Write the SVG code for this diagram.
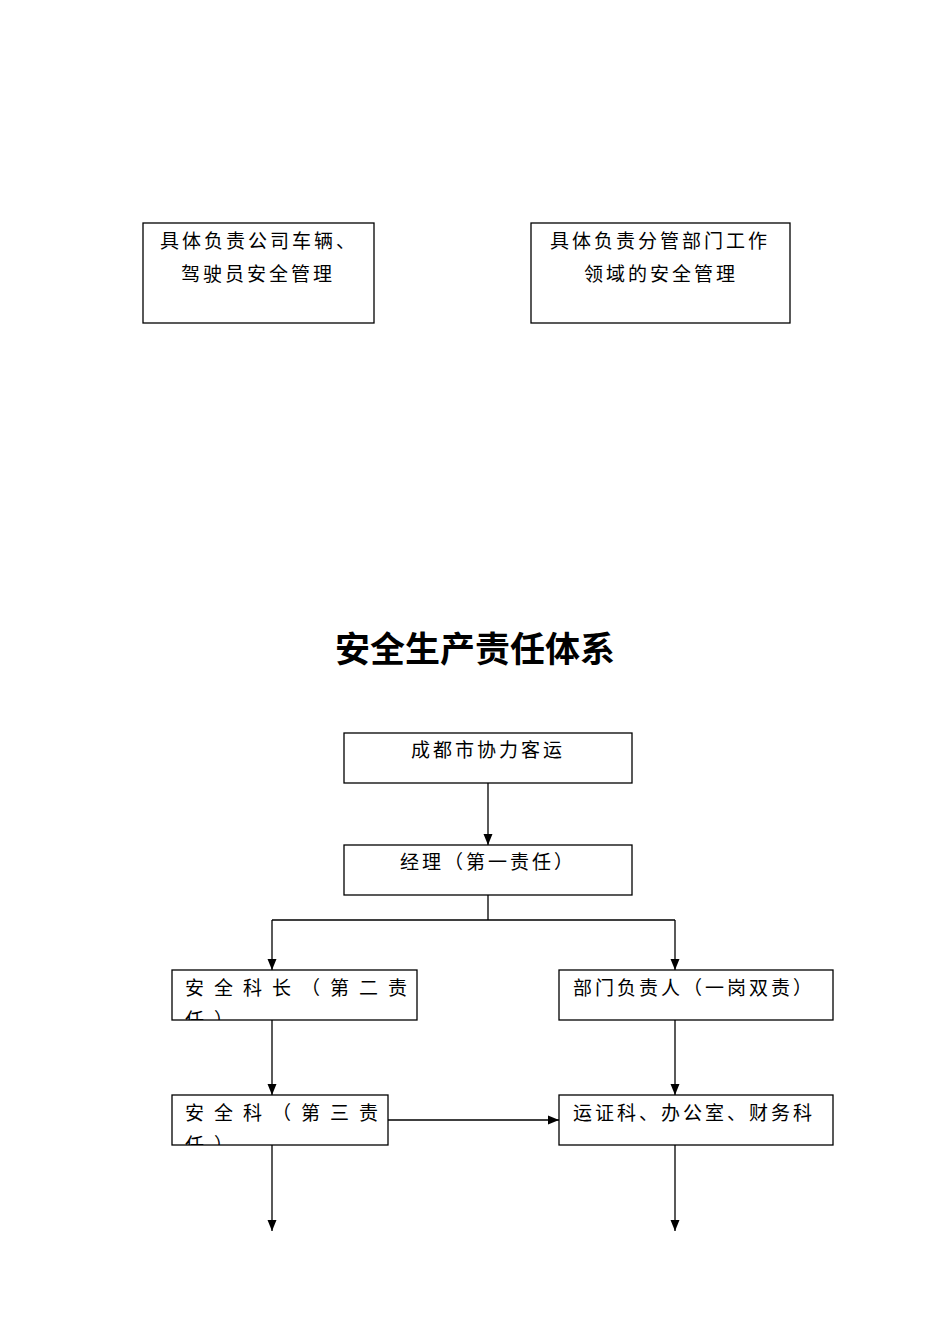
<svg xmlns="http://www.w3.org/2000/svg" width="950" height="1344" viewBox="0 0 950 1344">
<style>
.b{fill:#fff;stroke:#000;stroke-width:1.3}
.t{font-family:"Noto Sans CJK SC","Liberation Serif",serif;font-size:19px;fill:#000;letter-spacing:3px}
.s{letter-spacing:10px}
.c{stroke:#000;stroke-width:1.3;fill:none}
</style>
<defs>
<marker id="d" markerWidth="12" markerHeight="12" refX="11" refY="6" orient="auto" markerUnits="userSpaceOnUse" viewBox="0 0 12 12"><path d="M0,1.5 L11,6 L0,10.5 Z" fill="#000"/></marker>
<clipPath id="k1"><rect x="172" y="970" width="245" height="50"/></clipPath>
<clipPath id="k2"><rect x="172" y="1095" width="216" height="50"/></clipPath>
</defs>
<rect width="950" height="1344" fill="#fff"/>
<g id="n1"><rect class="b" x="143" y="223" width="231" height="100"/>
<text class="t" x="160" y="248">具体负责公司车辆、</text><text class="t" x="181" y="281">驾驶员安全管理</text></g>
<g id="n2"><rect class="b" x="531" y="223" width="259" height="100"/>
<text class="t" x="550" y="248">具体负责分管部门工作</text><text class="t" x="584" y="281">领域的安全管理</text></g>
<text x="475" y="662" text-anchor="middle" style="font-family:'Noto Sans CJK SC',sans-serif;font-size:35px;font-weight:bold">安全生产责任体系</text>
<g id="n3"><rect class="b" x="344" y="733" width="288" height="50"/><text class="t" x="411" y="757">成都市协力客运</text></g>
<g id="n4"><rect class="b" x="344" y="845" width="288" height="50"/><text class="t" x="400" y="869">经理（第一责任）</text></g>
<g id="n5"><rect class="b" x="172" y="970" width="245" height="50"/>
<g clip-path="url(#k1)"><text class="t s" x="185" y="995">安全科长（第二责</text><text class="t s" x="185" y="1027">任）</text></g></g>
<g id="n6"><rect class="b" x="559" y="970" width="274" height="50"/><text class="t" x="573" y="995">部门负责人（一岗双责）</text></g>
<g id="n7"><rect class="b" x="172" y="1095" width="216" height="50"/>
<g clip-path="url(#k2)"><text class="t s" x="185" y="1120">安全科（第三责</text><text class="t s" x="185" y="1152">任）</text></g></g>
<g id="n8"><rect class="b" x="559" y="1095" width="274" height="50"/><text class="t" x="573" y="1120">运证科、办公室、财务科</text></g>
<g id="conn">
<path class="c" d="M488,783 V845" marker-end="url(#d)"/>
<path class="c" d="M488,895 V920 M272,920 H675"/>
<path class="c" d="M272,920 V970" marker-end="url(#d)"/>
<path class="c" d="M675,920 V970" marker-end="url(#d)"/>
<path class="c" d="M272,1020 V1095" marker-end="url(#d)"/>
<path class="c" d="M675,1020 V1095" marker-end="url(#d)"/>
<path class="c" d="M388,1120 H559" marker-end="url(#d)"/>
<path class="c" d="M272,1145 V1231" marker-end="url(#d)"/>
<path class="c" d="M675,1145 V1231" marker-end="url(#d)"/>
</g>
</svg>
